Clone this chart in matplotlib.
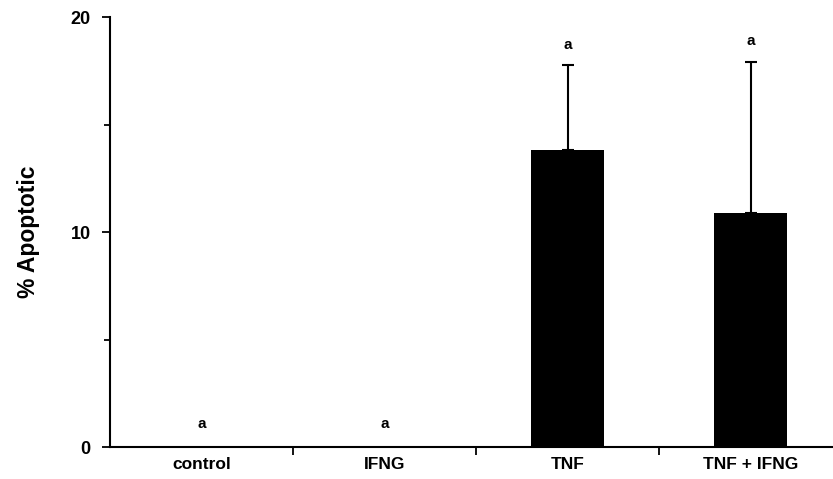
import matplotlib.pyplot as plt

categories = ['control', 'IFNG', 'TNF', 'TNF + IFNG']
apoptotic = [0, 0, 13.8, 10.9]
errors = [0, 0, 3.95, 7.0]
letters = ['a', 'a', 'a', 'a']
letter_y = [1.05, 1.05, 18.7, 18.9]

plt.rcParams['font.family'] = ['Liberation Sans', 'DejaVu Sans']
plt.rcParams['font.weight'] = 'bold'

fig = plt.figure(figsize=(8.33, 4.79), dpi=100)
ax = fig.add_axes([0.132, 0.0668, 0.879, 0.8977])

x = list(range(len(categories)))
ax.bar(x, apoptotic, width=0.4, color='black')
ax.errorbar(x[2:], apoptotic[2:], yerr=[[0, 0], errors[2:]], fmt='none',
            ecolor='black', elinewidth=1.5, capsize=4, capthick=1.5)

for xi, t, ty in zip(x, letters, letter_y):
    ax.text(xi, ty, t, ha='center', va='center', fontsize=11, fontweight='bold')

ax.set_xlim(-0.5, 3.5)
ax.set_ylim(0, 20)
ax.set_yticks([0, 10, 20])
ax.set_yticks([5, 15], minor=True)
ax.set_xticks([0.5, 1.5, 2.5])
ax.set_xticklabels([])
ax.set_xticks(x, minor=True)
ax.set_xticklabels(categories, minor=True)
ax.tick_params(axis='x', which='minor', length=0, pad=7, labelsize=12.5)
ax.tick_params(axis='x', which='major', length=6, width=1.3)
ax.tick_params(axis='y', which='major', length=6, width=1.3, labelsize=13, pad=8)
ax.tick_params(axis='y', which='minor', length=4, width=1.3)

ax.spines['top'].set_visible(False)
ax.spines['right'].set_visible(False)
ax.spines['left'].set_linewidth(1.5)
ax.spines['bottom'].set_linewidth(1.5)

ax.set_ylabel('% Apoptotic', fontsize=16.5, fontweight='bold', labelpad=22)

plt.savefig('out.png', dpi=100)
plt.close()
